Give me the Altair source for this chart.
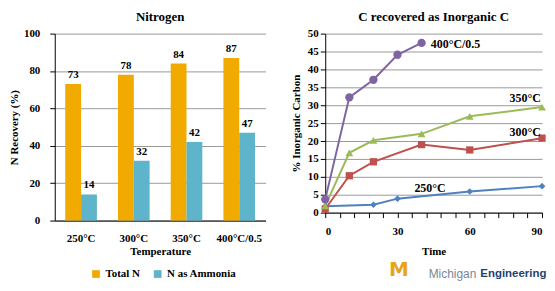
import altair as alt
import pandas as pd

# ---- Left chart data (Nitrogen) ----
temps = ["250°C", "300°C", "350°C", "400°C/0.5"]
total_n = [73, 78, 84, 87]
ammonia = [14, 32, 42, 47]
bar_series = ["Total N", "N as Ammonia"]

# ---- Right chart data (C recovered as Inorganic C) ----
t_250 = [0, 20, 30, 60, 90]
v_250 = [1.8, 2.2, 3.9, 5.9, 7.4]
t_300 = [0, 10, 20, 40, 60, 90]
v_300 = [1.0, 10.3, 14.2, 19.0, 17.5, 20.8]
t_350 = [0, 10, 20, 40, 60, 90]
v_350 = [1.9, 16.7, 20.2, 22.0, 26.9, 29.5]
t_400 = [0, 10, 20, 30, 40]
v_400 = [3.7, 32.2, 37.1, 44.1, 47.4]
series_names = ["250°C", "300°C", "350°C", "400°C/0.5"]
series_colors = ["#4F81BD", "#C0504D", "#9BBB59", "#8064A2"]
series_shapes = ["diamond", "square", "triangle-up", "circle"]
label_text = ["250°C", "300°C", "350°C", "400°C/0.5"]
label_t = [43.5, 83, 83, 43]
label_v = [6.8, 22.6, 32.0, 47.2]
label_align = ["center", "center", "center", "left"]
x_ticks = list(range(0, 91, 6))
y_ticks = list(range(0, 51, 5))

SERIF = "Liberation Serif"

bars = pd.DataFrame({
    "Temperature": temps * 2,
    "Series": [bar_series[0]] * 4 + [bar_series[1]] * 4,
    "Value": total_n + ammonia,
})

base_l = alt.Chart(bars).encode(
    x=alt.X("Temperature:N", sort=temps,
            scale=alt.Scale(paddingInner=0.4, paddingOuter=0.2),
            axis=alt.Axis(title="Temperature", labelAngle=0, ticks=False,
                          domainColor="black", labelPadding=12, titlePadding=2)),
    xOffset=alt.XOffset("Series:N", sort=bar_series),
    y=alt.Y("Value:Q", scale=alt.Scale(domain=[0, 100]),
            axis=alt.Axis(title="N Recovery (%)", values=[0, 20, 40, 60, 80, 100],
                          domainColor="black", tickColor="black", gridColor="#999999",
                          titlePadding=4, labelPadding=10, labelOverlap=False)),
)
bar_marks = base_l.mark_bar().encode(
    color=alt.Color("Series:N", sort=bar_series,
                    scale=alt.Scale(domain=bar_series, range=["#F0AA00", "#5DB4CB"]),
                    legend=alt.Legend(orient="none", legendX=36, legendY=236,
                                      direction="horizontal", title=None,
                                      symbolType="square", symbolSize=60,
                                      labelFont=SERIF, labelFontSize=11,
                                      labelFontWeight="bold", columnPadding=12))
)
bar_text = base_l.mark_text(dy=-9, font=SERIF, fontSize=11, fontWeight="bold",
                            color="black").encode(text="Value:Q")
left = alt.layer(bar_marks, bar_text).properties(
    width=212, height=188,
    title=alt.TitleParams("Nitrogen", font=SERIF, fontSize=13, fontWeight="bold",
                          offset=4),
)

rows = []
for name, ts, vs in [(series_names[0], t_250, v_250), (series_names[1], t_300, v_300),
                     (series_names[2], t_350, v_350), (series_names[3], t_400, v_400)]:
    for t, v in zip(ts, vs):
        rows.append({"Series": name, "Time": t, "Value": v})
lines_df = pd.DataFrame(rows)
labels_df = pd.DataFrame({"Label": label_text, "Time": label_t, "Value": label_v,
                          "Align": label_align})

xenc = alt.X("Time:Q", scale=alt.Scale(domain=[0, 90], nice=False),
             axis=alt.Axis(title="Time", values=x_ticks,
                           labelExpr="datum.value % 30 == 0 ? datum.label : ''",
                           labelOverlap=False, labelFlush=True, grid=False,
                           domainColor="black", tickColor="black",
                           labelPadding=8, titlePadding=9))
yenc = alt.Y("Value:Q", scale=alt.Scale(domain=[0, 50], nice=False),
             axis=alt.Axis(title="% Inorganic Carbon", values=y_ticks,
                           labelOverlap=False, domainColor="black", tickColor="black",
                           gridColor="#999999", titlePadding=6))
cenc = alt.Color("Series:N", scale=alt.Scale(domain=series_names, range=series_colors),
                 legend=None)

line_marks = alt.Chart(lines_df).mark_line(strokeWidth=2).encode(x=xenc, y=yenc, color=cenc)
point_marks = alt.Chart(lines_df).mark_point(filled=True, opacity=1).encode(
    x=xenc, y=yenc, color=cenc,
    shape=alt.Shape("Series:N", scale=alt.Scale(domain=series_names, range=series_shapes),
                    legend=None),
    size=alt.Size("Series:N", scale=alt.Scale(domain=series_names, range=[45, 70, 70, 120]),
                  legend=None),
)
lab_left = alt.Chart(labels_df).transform_filter("datum.Align == 'left'").mark_text(
    align="left", font=SERIF, fontSize=12, fontWeight="bold", color="black", dx=2
).encode(x=xenc, y=yenc, text="Label:N")
lab_center = alt.Chart(labels_df).transform_filter("datum.Align == 'center'").mark_text(
    align="center", font=SERIF, fontSize=12, fontWeight="bold", color="black"
).encode(x=xenc, y=yenc, text="Label:N")

one = pd.DataFrame({"a": [0]})
logo_m = alt.Chart(one).mark_text(text="M", font="DejaVu Sans", fontSize=20,
                                  fontWeight="bold", color="#E8A317", align="left").encode(
    x=alt.value(64), y=alt.value(238))
logo_a = alt.Chart(one).mark_text(text="Michigan", font="Liberation Sans", fontSize=12,
                                  color="#7A8796", align="left").encode(
    x=alt.value(104), y=alt.value(242))
logo_b = alt.Chart(one).mark_text(text="Engineering", font="Liberation Sans", fontSize=11.5,
                                  fontWeight="bold", color="#1F3F6E", align="left").encode(
    x=alt.value(156), y=alt.value(242))

right = alt.layer(line_marks, point_marks, lab_left, lab_center, logo_m, logo_a, logo_b).properties(
    width=218, height=180,
    title=alt.TitleParams("C recovered as Inorganic C", font=SERIF, fontSize=13,
                          fontWeight="bold", offset=4),
)

chart = alt.hconcat(left, right, spacing=25).resolve_scale(
    color="independent", y="independent", x="independent"
).configure(
    padding={"top": 2, "left": 0, "right": 0, "bottom": 0}
).configure_view(stroke=None).configure_axis(
    labelFont=SERIF, labelFontSize=11, labelFontWeight="bold", labelColor="black",
    titleFont=SERIF, titleFontSize=11, titleFontWeight="bold", titleColor="black",
    tickSize=5,
)

chart.save("out.html", embed_options={"renderer": "svg", "actions": False})
